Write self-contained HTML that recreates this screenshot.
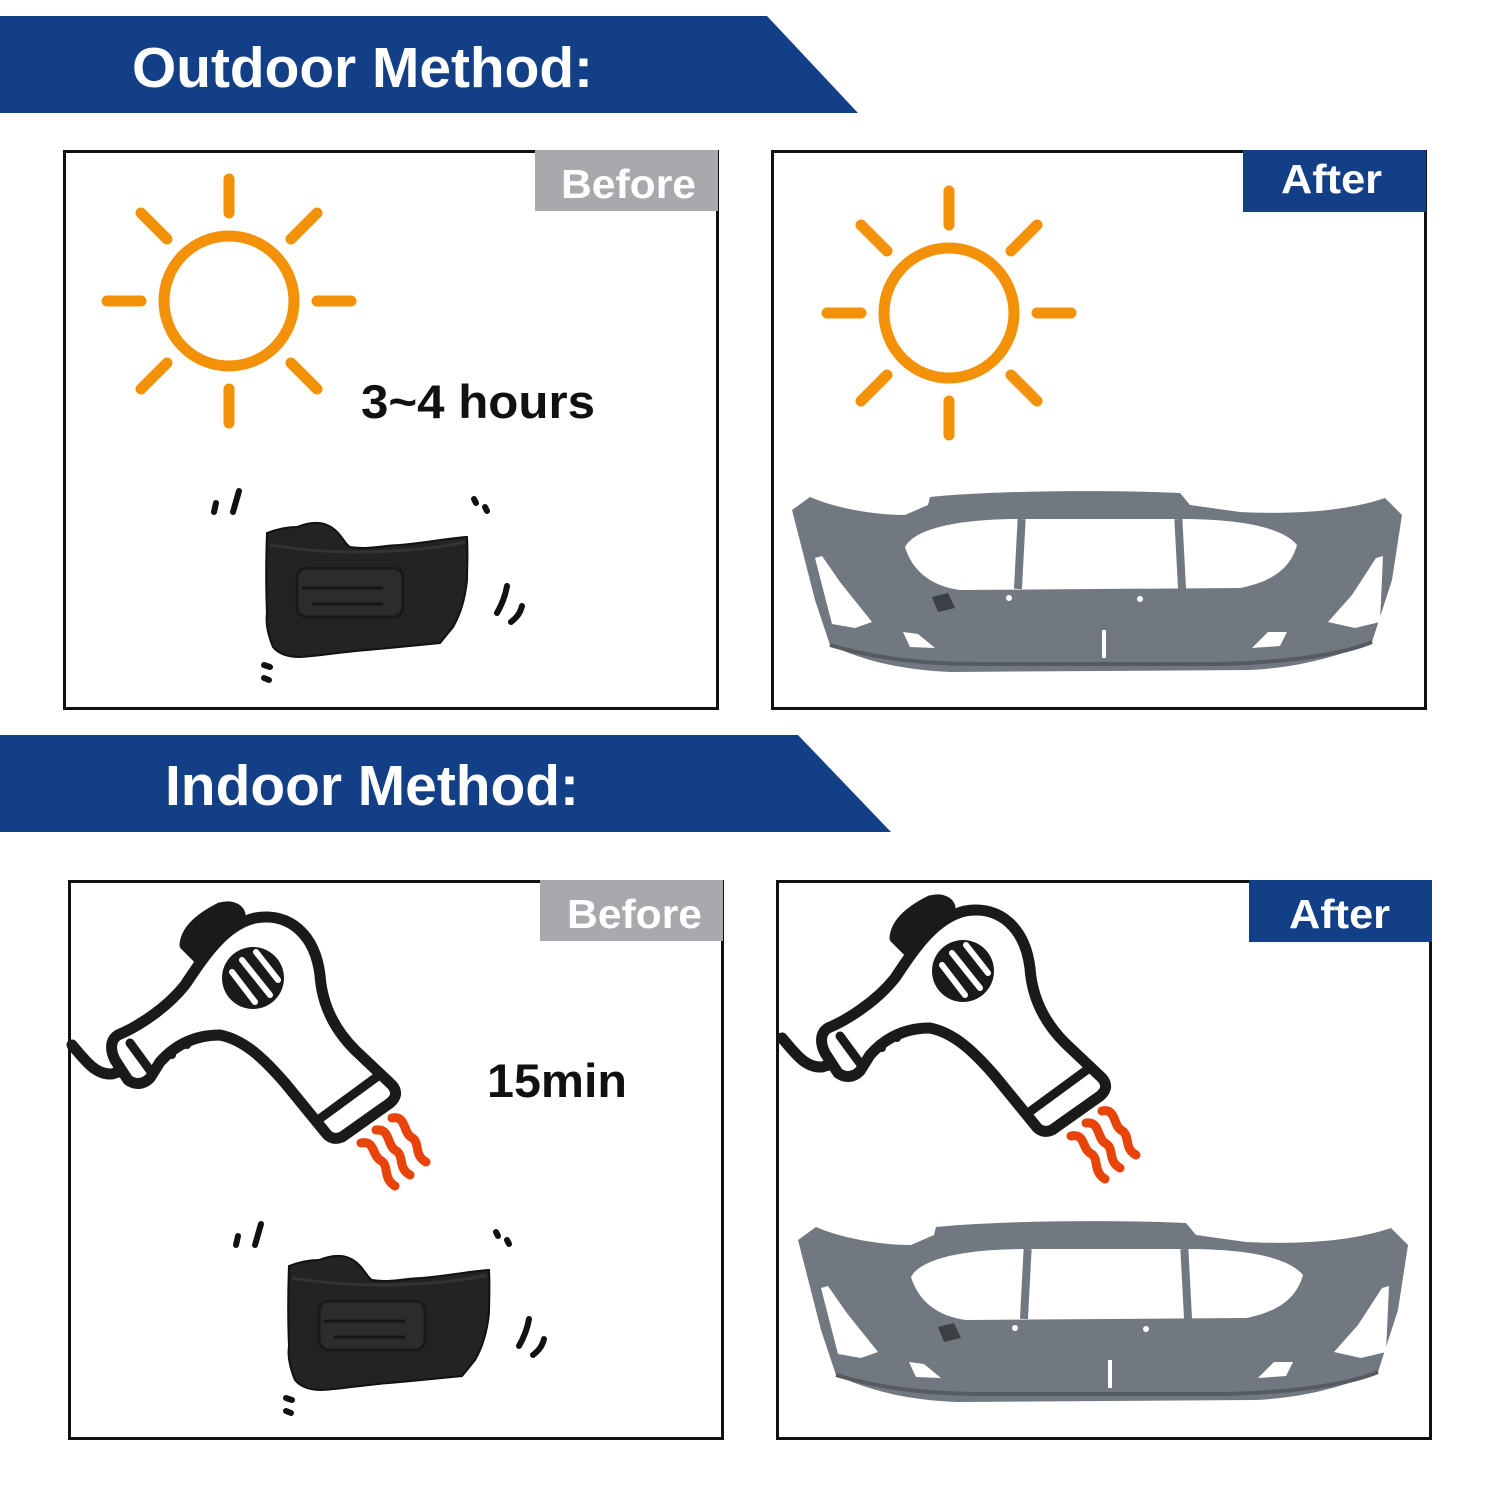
<!DOCTYPE html>
<html><head><meta charset="utf-8"><style>
html,body{margin:0;padding:0;background:#fff}
svg{display:block}
text{font-family:"Liberation Sans",Arial,sans-serif;font-weight:bold}
</style></head><body>
<svg width="1500" height="1500" viewBox="0 0 1500 1500" xmlns="http://www.w3.org/2000/svg">
<defs>
<g id="sun" stroke="#f39208" stroke-width="11" stroke-linecap="round" fill="none">
<circle cx="0" cy="0" r="65"/>
<line x1="0" y1="-122" x2="0" y2="-88"/>
<line x1="0" y1="88" x2="0" y2="122"/>
<line x1="-122" y1="0" x2="-88" y2="0"/>
<line x1="88" y1="0" x2="122" y2="0"/>
<line x1="-88" y1="-88" x2="-62" y2="-62"/>
<line x1="88" y1="-88" x2="62" y2="-62"/>
<line x1="-88" y1="88" x2="-62" y2="62"/>
<line x1="88" y1="88" x2="62" y2="62"/>
</g>
<g id="blob">
<path d="M267,533 C280,528 290,527 297,527 C310,522 320,522 327,525 C340,530 345,545 350,547 C370,550 385,545 400,545 C430,542 450,538 467,537 C468,555 467,570 467,580 C465,600 460,615 453,627 L440,643 C410,646 390,648 367,650 C340,652 320,656 300,657 C285,657 277,652 273,647 C266,630 266,620 267,613 C266,590 266,560 267,533 Z" fill="#232323" stroke="#111" stroke-width="2"/>
<path d="M270,545 C300,550 330,552 355,552 C400,552 440,548 465,542" stroke="#333" stroke-width="3" fill="none"/>
<rect x="297" y="568" width="106" height="49" rx="10" fill="#2c2c2c" stroke="#191919" stroke-width="3"/>
<line x1="302" y1="588" x2="383" y2="588" stroke="#151515" stroke-width="3"/>
<line x1="312" y1="604" x2="383" y2="604" stroke="#151515" stroke-width="3"/>
<g stroke="#111" stroke-width="6" stroke-linecap="round" fill="none">
<line x1="214" y1="512" x2="216" y2="503"/>
<line x1="233" y1="512" x2="239" y2="491"/>
<line x1="474" y1="499" x2="476" y2="503"/>
<line x1="485" y1="507" x2="487" y2="511"/>
<path d="M507,586 C505,598 501,606 497,613"/>
<path d="M522,606 C520,614 516,618 511,622"/>
<line x1="264" y1="665" x2="270" y2="667"/>
<line x1="264" y1="678" x2="269" y2="680"/>
</g>
</g>
<g id="car">
<path d="M792,510 L810,497 C840,510 880,515 905,515 L928,505 L930,497 C1000,490 1120,490 1180,493 L1190,505 L1240,512 C1300,515 1350,510 1385,498 L1402,515 L1392,580 L1372,642 C1330,660 1290,668 1250,670 L950,672 C900,670 862,660 830,645 L815,600 Z" fill="#727880"/>
<path d="M905,547 C915,528 960,519 1020,519 L1180,519 C1240,519 1282,527 1297,545 C1290,570 1270,582 1240,588 L960,590 C930,586 912,570 905,547 Z" fill="#fff"/>
<rect x="1016" y="519" width="8" height="70" fill="#727880" transform="rotate(3 1020 550)"/>
<rect x="1176" y="519" width="8" height="70" fill="#727880" transform="rotate(-3 1180 550)"/>
<path d="M815,558 L822,556 L840,582 L872,622 L855,628 L832,624 Z" fill="#fff"/>
<path d="M1376,558 L1383,556 L1380,622 L1355,628 L1328,622 L1352,595 Z" fill="#fff"/>
<path d="M903,632 L918,634 L935,648 L910,647 Z" fill="#fff"/>
<path d="M1268,632 L1287,632 L1280,646 L1252,648 Z" fill="#fff"/>
<rect x="1102" y="630" width="4" height="28" fill="#fff"/>
<path d="M830,645 C880,660 930,664 980,664 L1220,664 C1290,662 1340,655 1372,642" stroke="#555b60" stroke-width="4" fill="none"/>
<circle cx="1009" cy="598" r="3" fill="#fff"/>
<circle cx="1140" cy="599" r="3" fill="#fff"/>
<path d="M932,597 L948,593 L955,608 L938,612 Z" fill="#3c4045"/>
</g>
<g id="dryer" stroke="#1a1a1a" stroke-width="11" stroke-linejoin="round" stroke-linecap="round">
<path d="M72,1045 C85,1060 95,1075 112,1074 L125,1070" fill="none"/>
<path d="M185,945 C186,930 200,918 220,908 C235,904 240,912 240,915 L200,960 Z" fill="#1a1a1a"/>
<path d="M118,1035 C135,1028 165,1010 185,985 C205,955 225,925 255,918 C290,912 315,935 320,975 C322,1005 335,1030 355,1050 L392,1085 C398,1092 396,1098 390,1103 L342,1137 C335,1140 329,1138 325,1132 L285,1083 C265,1060 245,1040 220,1035 C195,1035 175,1045 160,1062 L150,1078 C143,1085 135,1085 128,1080 L115,1060 C110,1050 110,1040 118,1035 Z" fill="#fff"/>
<line x1="130" y1="1043" x2="152" y2="1073" stroke-width="9"/>
<line x1="318" y1="1120" x2="378" y2="1076" stroke-width="9"/>
<circle cx="253" cy="978" r="31" fill="#1a1a1a" stroke="none"/>
<g stroke="#fff" stroke-width="6">
<line x1="232" y1="972" x2="255" y2="1002"/>
<line x1="242" y1="960" x2="270" y2="995"/>
<line x1="256" y1="952" x2="278" y2="980"/>
</g>
<circle cx="172" cy="1055" r="4" fill="#1a1a1a" stroke="none"/>
<circle cx="187" cy="1045" r="4" fill="#1a1a1a" stroke="none"/>
<g stroke="#e8430a" stroke-width="9" fill="none">
<path d="M361,1143 C375,1140 372,1155 380,1160 C390,1165 382,1178 395,1186"/>
<path d="M376,1130 C390,1128 387,1145 395,1150 C405,1155 397,1168 410,1175"/>
<path d="M392,1118 C406,1115 403,1132 411,1137 C421,1142 413,1155 426,1162"/>
</g>
</g>
</defs>

<polygon points="0,16 767,16 858,113 0,113" fill="#123f85"/>
<text x="132" y="87" font-size="57" fill="#fff" textLength="461" lengthAdjust="spacingAndGlyphs">Outdoor Method:</text>
<polygon points="0,735 798,735 891,832 0,832" fill="#123f85"/>
<text x="165" y="805" font-size="57" fill="#fff" textLength="414" lengthAdjust="spacingAndGlyphs">Indoor Method:</text>

<rect x="64.5" y="151.5" width="653" height="557" fill="#fff" stroke="#111" stroke-width="3"/>
<rect x="535" y="150" width="183" height="61" fill="#a7a9ac"/>
<text x="561" y="198" font-size="41" fill="#fff" textLength="135" lengthAdjust="spacingAndGlyphs">Before</text>
<use href="#sun" x="229" y="301"/>
<text x="361" y="418" font-size="47" fill="#111" textLength="234" lengthAdjust="spacingAndGlyphs">3~4 hours</text>
<use href="#blob"/>

<rect x="772.5" y="151.5" width="653" height="557" fill="#fff" stroke="#111" stroke-width="3"/>
<rect x="1243" y="150" width="183" height="62" fill="#123f85"/>
<text x="1281" y="193" font-size="41" fill="#fff" textLength="101" lengthAdjust="spacingAndGlyphs">After</text>
<use href="#sun" x="949" y="313"/>
<use href="#car"/>

<rect x="69.5" y="881.5" width="653" height="557" fill="#fff" stroke="#111" stroke-width="3"/>
<rect x="540" y="880" width="183" height="61" fill="#a7a9ac"/>
<text x="567" y="928" font-size="41" fill="#fff" textLength="135" lengthAdjust="spacingAndGlyphs">Before</text>
<use href="#dryer"/>
<text x="487" y="1097" font-size="47" fill="#111" textLength="140" lengthAdjust="spacingAndGlyphs">15min</text>
<use href="#blob" x="22" y="733"/>

<rect x="777.5" y="881.5" width="653" height="557" fill="#fff" stroke="#111" stroke-width="3"/>
<rect x="1249" y="880" width="183" height="62" fill="#123f85"/>
<text x="1289" y="928" font-size="41" fill="#fff" textLength="101" lengthAdjust="spacingAndGlyphs">After</text>
<use href="#dryer" x="710" y="-7"/>
<use href="#car" x="6" y="730"/>
</svg>
</body></html>
